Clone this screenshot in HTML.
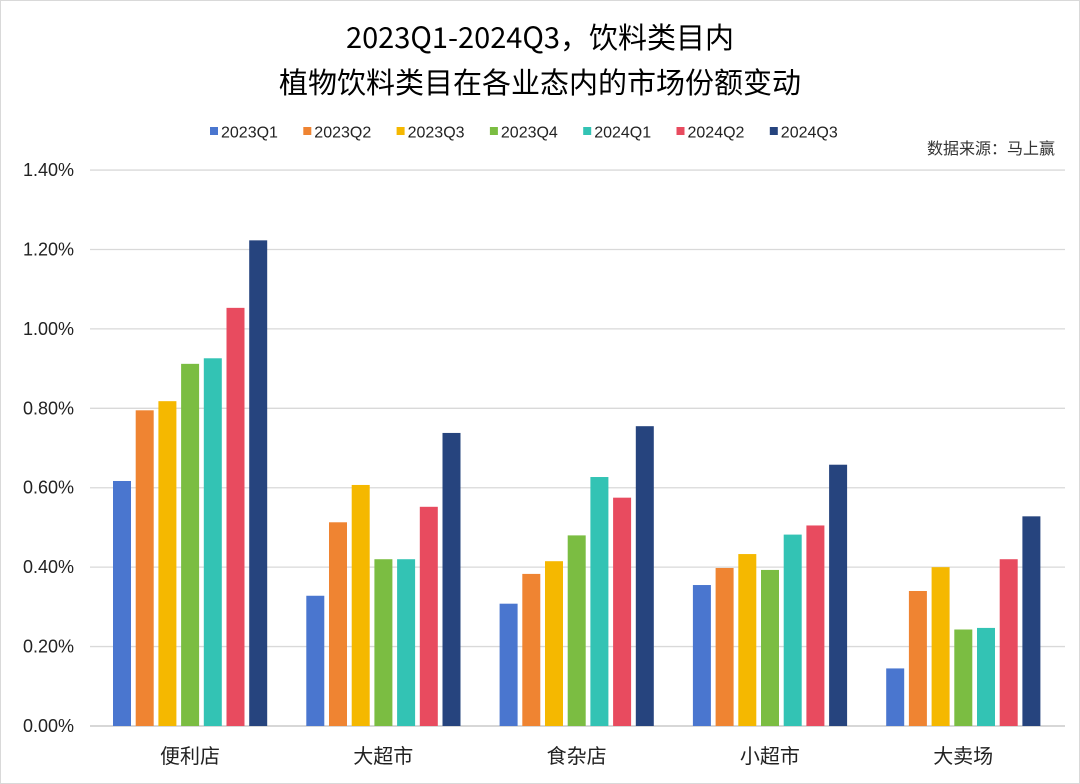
<!DOCTYPE html>
<html><head><meta charset="utf-8"><style>
html,body{margin:0;padding:0;background:#fff}
svg{display:block;font-family:"Liberation Sans","Noto Sans CJK SC",sans-serif}
</style></head><body>
<svg id="c" width="1080" height="784" viewBox="0 0 1080 784" xmlns="http://www.w3.org/2000/svg">
<rect x="0.5" y="0.5" width="1079" height="783" fill="#fff" stroke="#d9d9d9"/>
<text x="540" y="48" text-anchor="middle" font-size="29" fill="#000" font-family="'Noto Sans CJK SC',sans-serif">2023Q1-2024Q3，饮料类目内</text>
<text x="540" y="93" text-anchor="middle" font-size="29" fill="#000" font-family="'Noto Sans CJK SC',sans-serif">植物饮料类目在各业态内的市场份额变动</text>
<text x="1055" y="154" text-anchor="end" font-size="16" fill="#333" font-family="'Noto Sans CJK SC',sans-serif">数据来源：马上赢</text>
<g id="grid"></g><g id="bars"></g><g id="leg"></g>
</svg>
<script>
var ns="http://www.w3.org/2000/svg",svg=document.getElementById('c');
function el(t,a,txt,p){var e=document.createElementNS(ns,t);for(var k in a)e.setAttribute(k,a[k]);if(txt!=null)e.textContent=txt;(p||svg).appendChild(e);return e;}
var g=document.getElementById('grid'),b=document.getElementById('bars'),l=document.getElementById('leg');
var y0=726,pp=397.1;
for(var i=0;i<=7;i++){var y=y0-i*0.2*pp;
 el('line',{x1:90,x2:1065,y1:y,y2:y,stroke:i==0?'#bfbfbf':'#d9d9d9','stroke-width':1.3},null,g);
 el('text',{x:74,y:y+6,'text-anchor':'end','font-size':18,fill:'#222'},(i*0.2).toFixed(2)+'%',g);}
var cols=['#4a76cf','#ef8432','#f5b800','#7bbd42','#33c3b4','#e84b5f','#26447e'];
var names=['2023Q1','2023Q2','2023Q3','2023Q4','2024Q1','2024Q2','2024Q3'];
var data=[[0.617,0.795,0.818,0.912,0.926,1.053,1.223],[0.328,0.513,0.607,0.42,0.42,0.552,0.738],[0.308,0.383,0.415,0.48,0.627,0.575,0.755],[0.355,0.398,0.433,0.393,0.482,0.505,0.658],[0.145,0.34,0.4,0.243,0.247,0.42,0.528]];
var cats=['便利店','大超市','食杂店','小超市','大卖场'];
for(var k=0;k<5;k++){var gx=113+k*193.3;
 for(var j=0;j<7;j++){var h=data[k][j]*pp;el('rect',{x:gx+j*22.7,y:y0-h,width:18,height:h,fill:cols[j]},null,b);}
 el('text',{x:gx+77,y:763,'text-anchor':'middle','font-size':20,fill:'#222'},cats[k],b);}
for(var j=0;j<7;j++){var lx=210+j*93.3;el('rect',{x:lx,y:127,width:8,height:8,fill:cols[j]},null,l);
 el('text',{x:lx+11,y:137.5,'font-size':16,fill:'#222'},names[j],l);}
</script>
</body></html>
